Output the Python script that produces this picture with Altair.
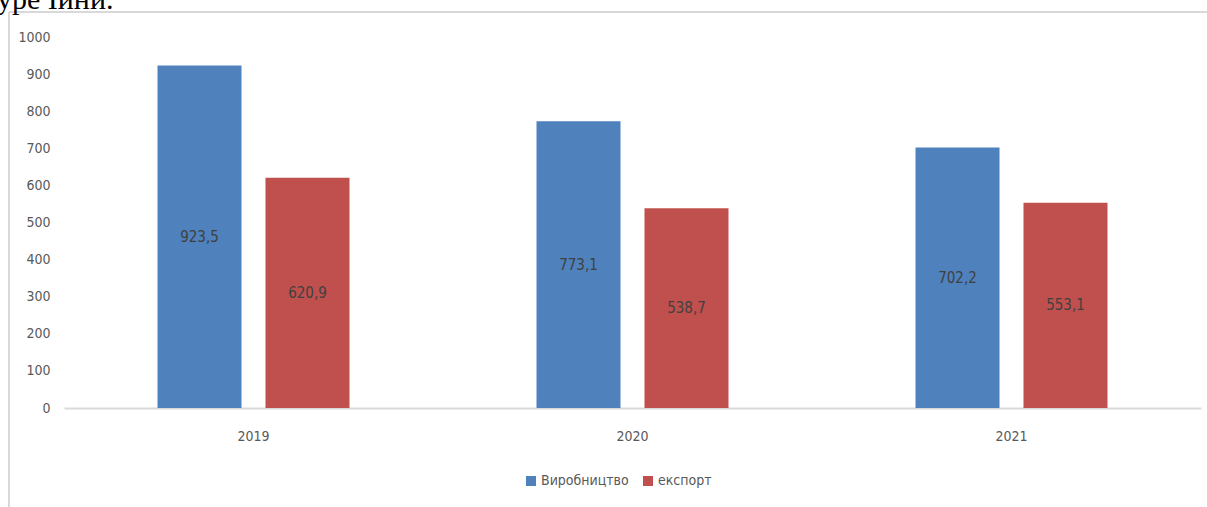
import altair as alt
import pandas as pd

years = ["2019", "2020", "2021"]
series = ["Виробництво", "експорт"]
production = [923.5, 773.1, 702.2]
export = [620.9, 538.7, 553.1]
colors = ["#4F81BD", "#C0504D"]

rows = []
for i, y in enumerate(years):
    rows.append({"year": y, "series": series[0], "value": production[i]})
    rows.append({"year": y, "series": series[1], "value": export[i]})
df = pd.DataFrame(rows)

FONT = "Liberation Sans Narrow, DejaVu Sans Condensed, sans-serif"

xaxis = alt.Axis(labelAngle=0, ticks=False, domainColor="#d9d9d9", domainWidth=2,
                 labelFont=FONT, labelFontSize=14, labelColor="#595959", labelPadding=21)
xscale = alt.Scale(paddingInner=0, paddingOuter=0)
yaxis = alt.Axis(values=list(range(0, 1001, 100)), format="d", labelOverlap=False,
                 grid=False, domain=False, ticks=False,
                 labelFont=FONT, labelFontSize=14, labelColor="#595959", labelPadding=14)
yscale = alt.Scale(domain=[0, 1000], nice=False)
xoff = alt.XOffset("series:N", sort=series,
                   scale=alt.Scale(paddingInner=0.222, paddingOuter=0.866))

bars = alt.Chart(df).mark_bar().encode(
    x=alt.X("year:N", title=None, sort=years, scale=xscale, axis=xaxis),
    xOffset=xoff,
    y=alt.Y("value:Q", title=None, scale=yscale, axis=yaxis),
    color=alt.Color("series:N", sort=series, scale=alt.Scale(domain=series, range=colors),
                    legend=alt.Legend(title=None, orient="none", legendX=460, legendY=437,
                                      direction="horizontal", symbolType="square", symbolSize=100,
                                      symbolStrokeWidth=0, labelFont=FONT, labelFontSize=14,
                                      labelColor="#595959", columnPadding=12, labelOffset=3)),
)

labels = alt.Chart(df).transform_calculate(
    half="datum.value / 2",
    lbl="replace(format(datum.value, '.1f'), '.', ',')"
).mark_text(font=FONT, fontSize=15, color="#404040").encode(
    x=alt.X("year:N", title=None, sort=years, scale=xscale, axis=xaxis),
    xOffset=xoff,
    y=alt.Y("half:Q", title=None, scale=yscale, axis=yaxis),
    text="lbl:N",
)

frame_top = alt.Chart(pd.DataFrame({"a": [0]})).mark_rule(color="#d9d9d9", strokeWidth=2).encode(
    x=alt.value(-55), x2=alt.value(1150), y=alt.value(-25))
frame_left = alt.Chart(pd.DataFrame({"a": [0]})).mark_rule(color="#d9d9d9", strokeWidth=2).encode(
    x=alt.value(-55), y=alt.value(-25), y2=alt.value(480))
top_text = alt.Chart(pd.DataFrame({"t": ["уре Іини."]})).mark_text(
    font="Liberation Serif, serif", fontSize=30, color="#000000", align="left", baseline="alphabetic"
).encode(x=alt.value(-67), y=alt.value(-28), text="t:N")

chart = alt.layer(bars, labels, frame_top, frame_left, top_text).properties(
    width=1137, height=371,
    background="white",
    autosize=alt.AutoSizeParams(type="none"),
    padding={"left": 64, "top": 37, "right": 6, "bottom": 99},
).configure_view(strokeWidth=0)

chart.save("out.html", embed_options={"renderer": "svg", "actions": False})
